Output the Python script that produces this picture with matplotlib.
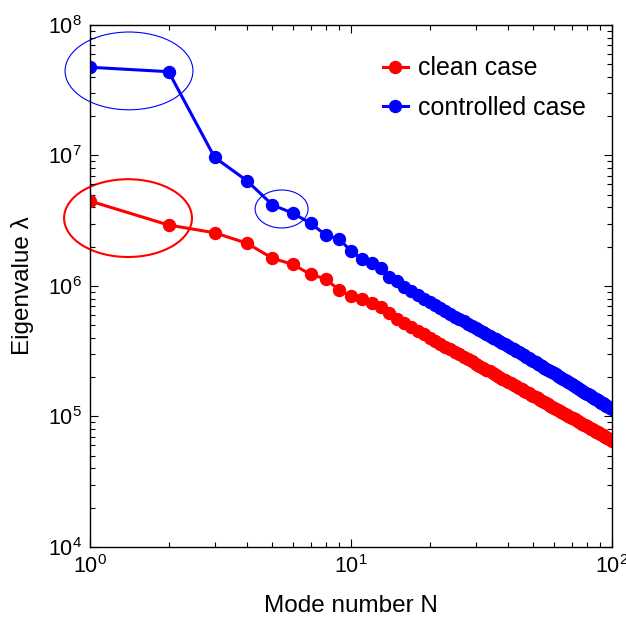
import numpy as np
import matplotlib
matplotlib.use("Agg")
import matplotlib.pyplot as plt
from matplotlib.patches import Ellipse

plt.rcParams['font.family'] = ['Liberation Sans', 'DejaVu Sans']
plt.rcParams['mathtext.default'] = 'regular'

# mode numbers 1..100
mode_n = list(range(1, 101))

# log10 of eigenvalue
clean_log10 = [
    6.651, 6.467, 6.408, 6.327, 6.212, 6.165, 6.088, 6.054, 5.969, 5.923,
    5.898, 5.872, 5.837, 5.795, 5.745, 5.714, 5.684, 5.656, 5.629, 5.604,
    5.581, 5.558, 5.536, 5.515, 5.495, 5.476, 5.458, 5.440, 5.423, 5.406,
    5.390, 5.375, 5.360, 5.345, 5.331, 5.317, 5.304, 5.291, 5.278, 5.266,
    5.254, 5.242, 5.230, 5.219, 5.208, 5.197, 5.187, 5.177, 5.167, 5.157,
    5.147, 5.138, 5.128, 5.119, 5.110, 5.101, 5.093, 5.084, 5.076, 5.068,
    5.060, 5.052, 5.044, 5.036, 5.028, 5.021, 5.013, 5.006, 4.999, 4.992,
    4.985, 4.978, 4.971, 4.964, 4.958, 4.951, 4.945, 4.938, 4.932, 4.926,
    4.920, 4.913, 4.907, 4.901, 4.896, 4.890, 4.884, 4.878, 4.873, 4.867,
    4.862, 4.856, 4.851, 4.846, 4.841, 4.835, 4.830, 4.825, 4.820, 4.815,
]

controlled_log10 = [
    7.676, 7.642, 6.986, 6.805, 6.621, 6.557, 6.480, 6.391, 6.358, 6.270,
    6.205, 6.179, 6.136, 6.071, 6.038, 5.990, 5.959, 5.931, 5.903, 5.878,
    5.853, 5.830, 5.807, 5.786, 5.765, 5.746, 5.728, 5.711, 5.694, 5.678,
    5.662, 5.647, 5.632, 5.618, 5.604, 5.591, 5.578, 5.565, 5.552, 5.540,
    5.527, 5.515, 5.503, 5.491, 5.479, 5.468, 5.457, 5.446, 5.435, 5.425,
    5.414, 5.404, 5.395, 5.385, 5.375, 5.366, 5.357, 5.348, 5.339, 5.330,
    5.322, 5.314, 5.305, 5.296, 5.288, 5.280, 5.272, 5.264, 5.256, 5.248,
    5.241, 5.233, 5.226, 5.218, 5.211, 5.204, 5.197, 5.190, 5.183, 5.176,
    5.170, 5.163, 5.156, 5.150, 5.144, 5.137, 5.131, 5.125, 5.119, 5.113,
    5.107, 5.101, 5.095, 5.089, 5.084, 5.078, 5.072, 5.067, 5.062, 5.056,
]

clean = 10 ** np.array(clean_log10)
controlled = 10 ** np.array(controlled_log10)

fig = plt.figure(figsize=(6.26, 6.18), dpi=100)
ax = fig.add_axes([0.1438, 0.1149, 0.8339, 0.8447])

ax.loglog(mode_n, clean, '-o', color='#ff0000', lw=2.2, ms=8.6,
          label='clean case')
ax.loglog(mode_n, controlled, '-o', color='#0000ff', lw=2.2, ms=8.6,
          label='controlled case')

ax.set_xlim(1, 100)
ax.set_ylim(1e4, 1e8)
ax.set_xlabel('Mode number N', fontsize=17.5, labelpad=12)
ax.set_ylabel('Eigenvalue λ', fontsize=17.5, labelpad=10)

ax.tick_params(which='both', direction='in', top=True, right=True,
               labelsize=15.5)
ax.tick_params(which='major', length=6, width=0.8, pad=6)
ax.tick_params(which='minor', length=3.5, width=0.8)
for sp in ax.spines.values():
    sp.set_linewidth(1.0)

# highlight ellipses (axes fraction coords)
ax.add_patch(Ellipse((0.0747, 0.912), 0.245, 0.149, transform=ax.transAxes,
                     fill=False, ec='#0000ff', lw=0.8, clip_on=False))
ax.add_patch(Ellipse((0.0728, 0.630), 0.245, 0.149, transform=ax.transAxes,
                     fill=False, ec='#ff0000', lw=1.5, clip_on=False))
ax.add_patch(Ellipse((0.367, 0.6475), 0.1015, 0.0728, transform=ax.transAxes,
                     fill=False, ec='#0000ff', lw=0.8, clip_on=False))

ax.legend(loc='upper left', bbox_to_anchor=(0.561, 0.940), frameon=False,
          borderaxespad=0, borderpad=0, fontsize=18, handlelength=1.0,
          handletextpad=0.4, labelspacing=0.62)

fig.savefig('out.png', dpi=100)
